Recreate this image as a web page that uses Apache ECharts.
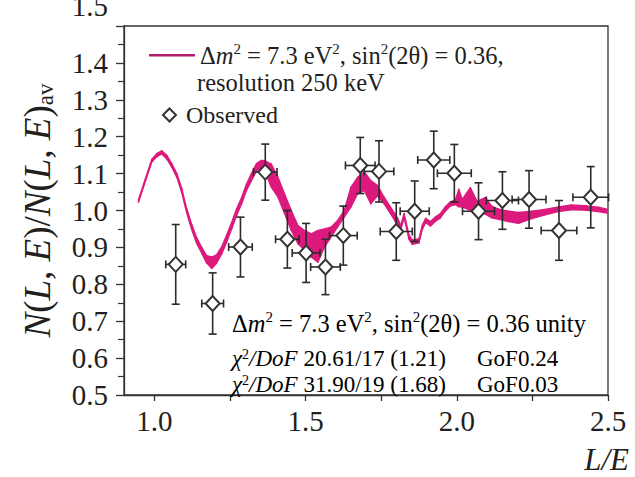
<!DOCTYPE html>
<html>
<head>
<meta charset="utf-8">
<script src="https://cdn.jsdelivr.net/npm/echarts@6/dist/echarts.min.js"></script>
<style>
html, body { margin: 0; padding: 0; background: #fff; }
#chart { width: 635px; height: 477px; }
</style>
</head>
<body>
<div id="chart"></div>
<script>
// model curve, read as a band (lower / upper edge) because the trace is noisy
const curveX = [0.948, 0.970, 0.992, 1.009, 1.025, 1.042, 1.058, 1.075, 1.091, 1.107, 1.124, 1.140, 1.157, 1.173, 1.190, 1.206, 1.223, 1.239, 1.256, 1.272, 1.289, 1.305, 1.321, 1.338, 1.354, 1.365, 1.387, 1.409, 1.431, 1.453, 1.475, 1.497, 1.519, 1.541, 1.563, 1.584, 1.606, 1.628, 1.650, 1.672, 1.694, 1.716, 1.738, 1.760, 1.782, 1.804, 1.815, 1.826, 1.842, 1.853, 1.875, 1.886, 1.897, 1.913, 1.930, 1.946, 1.962, 1.979, 1.995, 2.007, 2.018, 2.045, 2.067, 2.094, 2.116, 2.138, 2.171, 2.204, 2.248, 2.292, 2.336, 2.379, 2.423, 2.467, 2.497];
const curveLo = [1.022, 1.077, 1.131, 1.146, 1.153, 1.139, 1.117, 1.089, 1.048, 0.994, 0.948, 0.911, 0.884, 0.858, 0.843, 0.857, 0.882, 0.913, 0.950, 0.986, 1.018, 1.054, 1.080, 1.107, 1.116, 1.108, 1.063, 1.036, 0.991, 0.946, 0.910, 0.892, 0.874, 0.860, 0.901, 0.928, 0.955, 0.982, 1.009, 1.045, 1.054, 1.018, 1.040, 1.018, 0.990, 0.960, 0.948, 0.980, 0.922, 0.908, 0.912, 0.948, 0.967, 0.958, 0.971, 0.980, 0.998, 1.012, 1.016, 1.010, 1.010, 1.000, 0.995, 0.990, 0.980, 0.976, 0.970, 0.965, 0.978, 0.988, 0.997, 1.002, 1.001, 0.997, 0.993];
const curveHi = [1.030, 1.085, 1.139, 1.155, 1.162, 1.149, 1.127, 1.100, 1.060, 1.006, 0.962, 0.927, 0.900, 0.878, 0.874, 0.880, 0.902, 0.933, 0.968, 1.004, 1.036, 1.072, 1.100, 1.127, 1.136, 1.135, 1.126, 1.090, 1.045, 1.000, 0.959, 0.946, 0.937, 0.946, 0.950, 0.955, 0.973, 1.000, 1.063, 1.090, 1.105, 1.081, 1.068, 1.036, 1.008, 0.980, 0.960, 0.992, 0.934, 0.920, 0.924, 0.960, 0.979, 0.970, 0.983, 0.992, 1.010, 1.024, 1.028, 1.058, 1.030, 1.062, 1.025, 1.035, 1.012, 1.004, 0.998, 0.995, 0.998, 1.003, 1.010, 1.015, 1.013, 1.009, 1.004];

// observed points with x / y error half-widths
const obsX = [1.071, 1.193, 1.285, 1.367, 1.440, 1.502, 1.566, 1.625, 1.681, 1.743, 1.800, 1.861, 1.924, 1.992, 2.072, 2.151, 2.239, 2.338, 2.443];
const obsY = [0.854, 0.748, 0.901, 1.104, 0.922, 0.885, 0.847, 0.932, 1.122, 1.106, 0.943, 0.998, 1.137, 1.101, 0.998, 1.027, 1.030, 0.946, 1.036];
const obsXErr = [0.033, 0.036, 0.039, 0.039, 0.039, 0.046, 0.049, 0.046, 0.049, 0.049, 0.053, 0.048, 0.053, 0.056, 0.053, 0.053, 0.056, 0.059, 0.059];
const obsYErr = [0.108, 0.083, 0.081, 0.076, 0.078, 0.080, 0.075, 0.080, 0.076, 0.083, 0.078, 0.082, 0.078, 0.078, 0.077, 0.078, 0.078, 0.081, 0.083];

const xLabels = [1.0, 1.5, 2.0, 2.5];
const xTicks = [1.0, 1.25, 1.5, 1.75, 2.0, 2.25, 2.5];

const font = "'Liberation Serif', 'DejaVu Serif', serif";
const ink = '#231f20';
const magenta = '#dc1a7d';

function richSet(size, lh) {
  const sup = Math.round(size * 0.62);
  const line = lh || size + 4;
  return {
    n: { fontFamily: font, fontSize: size, color: ink, lineHeight: line },
    i: { fontFamily: font, fontSize: size, fontStyle: 'italic', color: ink, lineHeight: line },
    s: { fontFamily: font, fontSize: sup, color: ink, verticalAlign: 'top', lineHeight: sup + 2 }
  };
}

// band segments: [x0, lo0, hi0, x1, lo1, hi1]
const bandData = curveX.slice(1).map((x, i) => [curveX[i], curveLo[i], curveHi[i], x, curveLo[i + 1], curveHi[i + 1]]);

const chart = echarts.init(document.getElementById('chart'), null, { renderer: 'svg' });

const option = {
  backgroundColor: '#fff',
  animation: false,
  grid: {
    left: 124, right: 27, top: 26, bottom: 82,
    show: true, borderColor: '#333', borderWidth: 1.3,
    outerBoundsMode: 'none'
  },
  legend: [
    {
      data: [{ name: 'model', icon: 'rect', itemStyle: { color: '#b31b6e' } }],
      left: 144, top: 36,
      itemWidth: 46, itemHeight: 2.5,
      selectedMode: false,
      textStyle: { rich: richSet(24.5) },
      formatter: () => '{n|Δ}{i|m}{s|2}{n| = 7.3 eV}{s|2}{n|, sin}{s|2}{n|(2θ) = 0.36,}'
    },
    {
      data: [{ name: 'Observed', icon: 'diamond', itemStyle: { color: '#fff', borderColor: '#333', borderWidth: 2 } }],
      left: 157, top: 98,
      itemWidth: 13, itemHeight: 13,
      selectedMode: false,
      textStyle: { fontFamily: font, fontSize: 24, color: ink, padding: [0, 0, 0, 5] }
    }
  ],
  xAxis: {
    type: 'value',
    min: 0.9, max: 2.5,
    axisLine: { lineStyle: { color: '#333', width: 1.3 } },
    axisTick: { inside: false, length: 6, customValues: xTicks, lineStyle: { color: '#333', width: 1.3 } },
    axisLabel: {
      customValues: xLabels,
      margin: 11,
      fontFamily: font, fontSize: 29, color: ink,
      formatter: v => v.toFixed(1)
    },
    splitLine: { show: false }
  },
  yAxis: {
    type: 'value',
    min: 0.5, max: 1.5, interval: 0.1,
    name: '{i|N}{n|(}{i|L}{n|, }{i|E}{n|)/}{i|N}{n|(}{i|L}{n|, }{i|E}{n|)}{b|av}',
    nameLocation: 'middle',
    nameRotate: 90,
    nameGap: 67,
    nameTextStyle: {
      rich: {
        n: { fontFamily: font, fontSize: 37, color: ink, lineHeight: 40 },
        i: { fontFamily: font, fontSize: 37, fontStyle: 'italic', color: ink, lineHeight: 40 },
        b: { fontFamily: font, fontSize: 23, color: ink, verticalAlign: 'bottom', lineHeight: 24 }
      }
    },
    axisLine: { show: true, lineStyle: { color: '#333', width: 1.3 } },
    axisTick: { show: true, inside: false, length: 8, lineStyle: { color: '#333', width: 1.3 } },
    minorTick: { show: true, splitNumber: 2, length: 6, lineStyle: { color: '#333', width: 1.2 } },
    axisLabel: {
      margin: 16,
      fontFamily: font, fontSize: 29, color: ink,
      formatter: v => (Math.abs(v - 1.5) < 1e-6 ? '{top|1.5}' : v.toFixed(1)),
      rich: { top: { fontFamily: font, fontSize: 29, color: ink, padding: [0, 0, 40, 0] } }
    },
    splitLine: { show: false }
  },
  graphic: [
    {
      type: 'text', left: 197, top: 70, z: 10,
      style: { text: 'resolution 250 keV', fontFamily: font, fontSize: 24.5, fill: ink }
    },
    {
      type: 'text', right: 6, top: 444, z: 10,
      style: { text: 'L/E', fontFamily: font, fontSize: 31, fontStyle: 'italic', fill: ink }
    },
    {
      type: 'text', left: 232, top: 309, z: 10,
      style: {
        text: '{n|Δ}{i|m}{s|2}{n| = 7.3 eV}{s|2}{n|, sin}{s|2}{n|(2θ) = 0.36 unity}',
        rich: richSet(24.5)
      }
    },
    {
      type: 'text', left: 232, top: 347, z: 10,
      style: { text: '{i|χ}{s|2}{i|/DoF}{n| 20.61/17 (1.21)}', rich: richSet(23, 22) }
    },
    {
      type: 'text', left: 477, top: 347, z: 10,
      style: { text: '{n|GoF0.24}', rich: richSet(23, 22) }
    },
    {
      type: 'text', left: 232, top: 373, z: 10,
      style: { text: '{i|χ}{s|2}{i|/DoF}{n| 31.90/19 (1.68)}', rich: richSet(23, 22) }
    },
    {
      type: 'text', left: 477, top: 373, z: 10,
      style: { text: '{n|GoF0.03}', rich: richSet(23, 22) }
    }
  ],
  series: [
    {
      name: 'model',
      type: 'custom',
      data: bandData,
      encode: { x: [0, 3], y: [1, 2, 4, 5] },
      itemStyle: { color: magenta },
      z: 1,
      renderItem: function (params, api) {
        const a = api.coord([api.value(0), api.value(1)]);
        const b = api.coord([api.value(3), api.value(4)]);
        const c = api.coord([api.value(3), api.value(5)]);
        const d = api.coord([api.value(0), api.value(2)]);
        return {
          type: 'polygon',
          shape: { points: [a, b, c, d] },
          style: { fill: magenta, stroke: magenta, lineWidth: 1.3, lineJoin: 'round' }
        };
      }
    },
    {
      name: 'errors',
      type: 'custom',
      data: obsX.map((x, i) => [x, obsY[i], obsXErr[i], obsYErr[i]]),
      encode: { x: 0, y: 1 },
      z: 2,
      renderItem: function (params, api) {
        const x = api.value(0), y = api.value(1);
        const ex = api.value(2), ey = api.value(3);
        const top = api.coord([x, y + ey]);
        const bot = api.coord([x, y - ey]);
        const lft = api.coord([x - ex, y]);
        const rgt = api.coord([x + ex, y]);
        const c = 4;
        const style = { stroke: '#2b2b2b', lineWidth: 1.6 };
        const seg = (x1, y1, x2, y2) => ({ type: 'line', shape: { x1, y1, x2, y2 }, style });
        return {
          type: 'group',
          children: [
            seg(top[0], top[1], bot[0], bot[1]),
            seg(top[0] - c, top[1], top[0] + c, top[1]),
            seg(bot[0] - c, bot[1], bot[0] + c, bot[1]),
            seg(lft[0], lft[1], rgt[0], rgt[1]),
            seg(lft[0], lft[1] - c, lft[0], lft[1] + c),
            seg(rgt[0], rgt[1] - c, rgt[0], rgt[1] + c)
          ]
        };
      }
    },
    {
      name: 'Observed',
      type: 'scatter',
      symbol: 'diamond',
      symbolSize: [14, 15],
      data: obsX.map((x, i) => [x, obsY[i]]),
      itemStyle: { color: '#fff', borderColor: '#333', borderWidth: 2, opacity: 1 },
      z: 3
    }
  ]
};

chart.setOption(option);
</script>
</body>
</html>
